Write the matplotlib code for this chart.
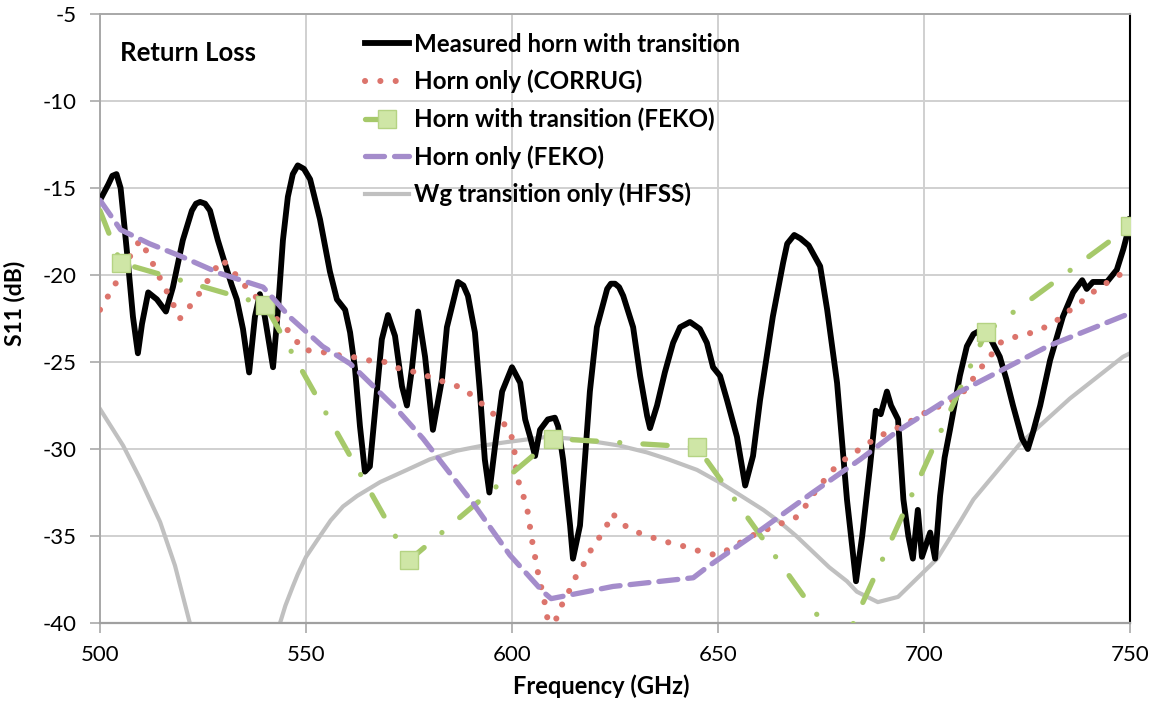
import matplotlib
matplotlib.use("Agg")
import matplotlib.pyplot as plt
import numpy as np

# ---------------- data ----------------
meas_f = [500, 502, 503, 504, 505, 505.6, 506.8, 508, 509.2, 510.2, 511.7, 513.8, 516, 517.7, 520.1, 522.3,
          523.3, 524.3, 525.5, 526.7, 528.6, 530.8, 532, 533.2, 534.7, 536.2, 537.6, 538.8, 540, 542, 543.2,
          544.4, 545.6, 546.8, 548, 549.5, 551, 553.4, 555.8, 557.5, 559.5, 560.7, 561.9, 563.1, 564.3, 565.5,
          567.2, 568.4, 569.9, 571.6, 573.3, 574.5, 575.7, 577.2, 578.9, 580.8, 583, 584.2, 586.9,
          588.2, 589.3, 591, 592.2, 593.4, 594.5, 595.9, 597.6, 600, 602, 603.2, 604.4, 605.6, 606.8,
          608.7, 610.4, 611.2, 612.4, 614.1, 614.8, 616.5, 617.7, 618.9, 620.6, 623.1, 624, 625, 626, 627,
          629.4, 631.1, 632.8, 633.5, 635.2, 637.1, 639.1, 640.8, 643.2, 645.6, 647.3, 648.8,
          650.5, 652.2, 654.6, 656.6, 658.5, 660.2, 663.3, 665.8, 666.8, 668.5, 670, 672, 674.8, 676.5,
          678.9, 681.3, 683.5, 685, 686.9, 688.3, 689.5, 691, 692, 693.7, 695, 696.2, 697.3,
          698.5, 699.5, 700.5, 701.5, 702.7, 703.9, 705, 706.3, 708.7, 710.4, 712, 714.3, 716,
          718.4, 720, 721.6, 723.8, 725.2, 726.5, 728.2, 730.6, 733.7, 736.2, 738.4, 739.5, 741,
          744.4, 746.8, 748.4, 749.5, 750]
meas_db = [-15.7, -14.8, -14.3, -14.2, -15.0, -16.4, -19.3, -22.4, -24.5, -22.8, -21.0, -21.4, -22.1, -20.7, -18.0, -16.3,
           -15.9, -15.8, -15.9, -16.3, -18.0, -19.7, -20.6, -21.4, -23.1, -25.6, -22.4, -21.1, -22.4, -25.3, -22.0,
           -18.0, -15.5, -14.2, -13.7, -13.9, -14.5, -16.8, -19.8, -21.4, -22.0, -23.3, -25.4, -28.7, -31.3, -31.0,
           -26.7, -23.7, -22.3, -23.5, -26.4, -27.5, -25.4, -22.1, -24.7, -28.9, -26.0, -23.0, -20.4,
           -20.6, -21.2, -23.3, -26.7, -30.6, -32.5, -29.8, -26.7, -25.3, -26.2, -28.3, -29.3, -30.4, -28.9,
           -28.3, -28.2, -28.7, -30.6, -34.4, -36.3, -34.4, -30.6, -26.7, -23.0, -20.8, -20.5, -20.5, -20.7, -21.2,
           -23.0, -25.8, -28.1, -28.8, -27.5, -25.6, -23.9, -23.0, -22.7, -23.1, -23.9, -25.3,
           -25.8, -27.2, -29.3, -32.1, -30.4, -27.2, -22.4, -19.3, -18.2, -17.7, -17.9, -18.3, -19.5, -22.0,
           -26.2, -32.9, -37.6, -35.0, -31.0, -27.8, -28.0, -26.7, -27.5, -28.3, -32.9, -35.0, -36.3,
           -33.5, -36.2, -35.5, -34.8, -36.3, -32.7, -30.5, -28.9, -25.8, -24.1, -23.4, -23.1, -23.6,
           -24.7, -26.0, -27.5, -29.4, -30.0, -29.0, -27.5, -24.9, -22.4, -21.0, -20.3, -20.8, -20.4,
           -20.4, -19.7, -18.5, -17.5, -16.8]

corrug_f = [500, 504, 507.8, 509.7, 511.7, 515, 517, 519.4, 521.8, 524.3, 526.2, 528.4, 529.6, 532.3,
            534.7, 537.6, 540, 543.2, 546.1, 549.3, 553.4, 557.5, 561.2, 565, 569.2, 572.8, 577,
            580.6, 584.2, 588.1, 592.2, 595.1, 597.8, 599.5, 600.5, 601.2, 603.6, 604.9, 606.3, 608,
            609.5, 611.2, 613.3, 614.8, 617, 618.9, 620.9, 623, 624.3, 627.4, 629.4, 633, 636.7,
            640.5, 644.4, 648, 649.3, 652.4, 656, 659.7, 663.3, 667, 669.2, 671.8, 674, 676.5, 679,
            682, 685.7, 688.8, 692.5, 696.1, 699.5, 703.2, 705.8, 708.7, 711.2, 713.6, 716, 718.4,
            722.8, 726.5, 728.6, 732.3, 735, 738.4, 741.5, 744.7, 748.1, 750]
corrug_db = [-22.0, -20.4, -18.7, -18.0, -18.8, -20.4, -21.3, -22.5, -21.8, -21.0, -20.3, -19.5, -19.1, -19.8,
             -20.5, -21.2, -21.8, -22.6, -23.3, -24.3, -24.4, -24.6, -24.7, -24.9, -25.0, -25.4, -25.6,
             -25.9, -26.2, -26.5, -27.3, -27.9, -28.5, -28.9, -29.9, -31.6, -33.3, -35.3, -37.1, -38.9,
             -41.0, -39.3, -38.5, -37.6, -36.8, -35.9, -35.2, -34.4, -33.7, -34.4, -34.7, -35.0, -35.3,
             -35.5, -35.8, -36.0, -36.1, -35.8, -35.3, -34.8, -34.5, -34.1, -33.9, -33.1, -32.3, -31.6, -30.9,
             -30.4, -29.8, -29.3, -28.9, -28.5, -28.0, -27.6, -27.3, -27.0, -26.2, -25.4, -24.7, -23.9,
             -23.5, -23.3, -23.1, -22.6, -22.1, -21.5, -20.9, -20.4, -19.9, -19.7]

fekot_f = [500, 505, 540, 575, 610, 645, 680, 715, 750]
fekot_db = [-16.3, -19.3, -21.7, -36.4, -29.4, -29.9, -41.5, -23.3, -17.2]

fekoh_f = [500, 505, 512, 519.4, 529, 539.6, 546, 554, 560.7, 563.8, 572, 578.4, 590.5, 599.5,
           607.5, 609.5, 624.5, 644, 647.3, 659.5, 673, 684.5, 693.4, 708, 730, 750]
fekoh_db = [-15.7, -17.4, -18.2, -18.9, -19.9, -20.7, -22.4, -24.1, -25.1, -25.8, -27.7, -29.4, -33.1, -36.1,
            -38.2, -38.6, -37.9, -37.4, -36.8, -34.8, -32.5, -30.6, -29.0, -26.8, -24.1, -22.2]

hfss_f = [500, 505.6, 509.7, 514.6, 518.2, 521.8, 524, 532, 542, 543.7, 545, 546.8, 548, 550, 553.4,
          556, 559, 562.4, 568, 574.5, 580, 586.6, 593, 598.8, 608.5, 614, 620.6, 626, 632.8, 638,
          644.9, 651, 657, 661, 665, 669, 673, 677, 681.3, 683.7, 688.8, 693.7,
          701.5, 703.2, 708.7, 712, 723.3, 735.4, 748.3, 750]
hfss_db = [-27.7, -29.8, -31.7, -34.2, -36.7, -40.0, -42.0, -60.0, -42.0, -40.0, -39.0, -37.9, -37.2, -36.2, -35.0,
           -34.1, -33.3, -32.7, -31.9, -31.2, -30.6, -30.1, -29.8, -29.6, -29.3, -29.4, -29.6, -29.8, -30.2, -30.6,
           -31.2, -32.0, -32.9, -33.5, -34.2, -35.0, -35.9, -36.8, -37.6, -38.2, -38.8, -38.5,
           -36.7, -36.3, -34.2, -32.9, -29.7, -27.1, -24.7, -24.5]

labels = ["Measured horn with transition", "Horn only (CORRUG)", "Horn with transition (FEKO)",
          "Horn only (FEKO)", "Wg transition only (HFSS)"]
x_ticks = [500, 550, 600, 650, 700, 750]
y_ticks = [-5, -10, -15, -20, -25, -30, -35, -40]

# ---------------- style ----------------
plt.rcParams['font.family'] = ['Lato', 'DejaVu Sans']
plt.rcParams['axes.unicode_minus'] = False
W, H = 1152, 702
fig = plt.figure(figsize=(W / 100, H / 100), dpi=100)
ax = fig.add_axes([100 / W, 1 - 623 / H, 1030 / W, 609 / H])

c_black = '#000000'
c_red = '#dc746c'
c_green = '#a6c96a'
c_purple = '#a48ccb'
c_gray = '#c0c0c0'

l_hf, = ax.plot(hfss_f, hfss_db, color=c_gray, lw=3.0, zorder=2, label=labels[4],
                solid_joinstyle='round')
l_meas, = ax.plot(meas_f, meas_db, color=c_black, lw=4.2, zorder=3, label=labels[0],
                  solid_joinstyle='round')
l_cor, = ax.plot(corrug_f, corrug_db, color=c_red, lw=4.4, zorder=4, label=labels[1],
                 dashes=(0.01, 2.5), dash_capstyle='round')
l_ft, = ax.plot(fekot_f, fekot_db, color=c_green, lw=3.8, zorder=5, label=labels[2],
                dashes=(4.6, 4.4, 0.01, 4.4), dash_capstyle='round',
                marker='s', markersize=13, markerfacecolor='#cfe6a6', markeredgecolor='#b5d383',
                markeredgewidth=1.0, markevery=list(range(1, len(fekot_f))))
l_fh, = ax.plot(fekoh_f, fekoh_db, color=c_purple, lw=3.8, zorder=6, label=labels[3],
                dashes=(3.6, 1.9), dash_capstyle='round')

ax.set_xlim(500, 750)
ax.set_ylim(-40, -5)
ax.set_xticks(x_ticks)
ax.set_yticks(y_ticks)
ax.grid(True, color='#d0d0d0', lw=1.4, zorder=0)
ax.set_axisbelow(True)
ax.spines['top'].set_color('#a8a8a8')
ax.spines['top'].set_linewidth(1.4)
ax.spines['right'].set_color('#000000')
ax.spines['right'].set_linewidth(1.5)
ax.spines['left'].set_color('#a8a8a8')
ax.spines['bottom'].set_color('#a0a0a0')
ax.spines['left'].set_linewidth(1.4)
ax.spines['bottom'].set_linewidth(1.6)
ax.tick_params(axis='both', direction='out', length=7, width=1.3, color='#b0b0b0',
               labelsize=16)
ax.tick_params(axis='x', pad=9)
ax.tick_params(axis='y', pad=10)

ax.set_xlabel("Frequency (GHz)", fontsize=17, fontweight='bold', labelpad=5)
ax.xaxis.set_label_coords(0.487, -0.085)
ax.set_ylabel("S11 (dB)", fontsize=16.5, fontweight='bold', labelpad=9)
ax.yaxis.set_label_coords(-0.072, 0.525)

ax.text(0.019, 0.936, "Return Loss", transform=ax.transAxes, fontsize=18.5,
        fontweight='bold', va='center', ha='left')

leg = ax.legend(handles=[l_meas, l_cor, l_ft, l_fh, l_hf], labels=labels,
                loc='upper left', bbox_to_anchor=(0.257, 0.969), frameon=False,
                fontsize=17.4, handlelength=1.85, handletextpad=0.2, labelspacing=0.58,
                borderpad=0, borderaxespad=0, numpoints=1)
for t in leg.get_texts():
    t.set_fontweight('bold')

fig.savefig("out.png", dpi=100)
